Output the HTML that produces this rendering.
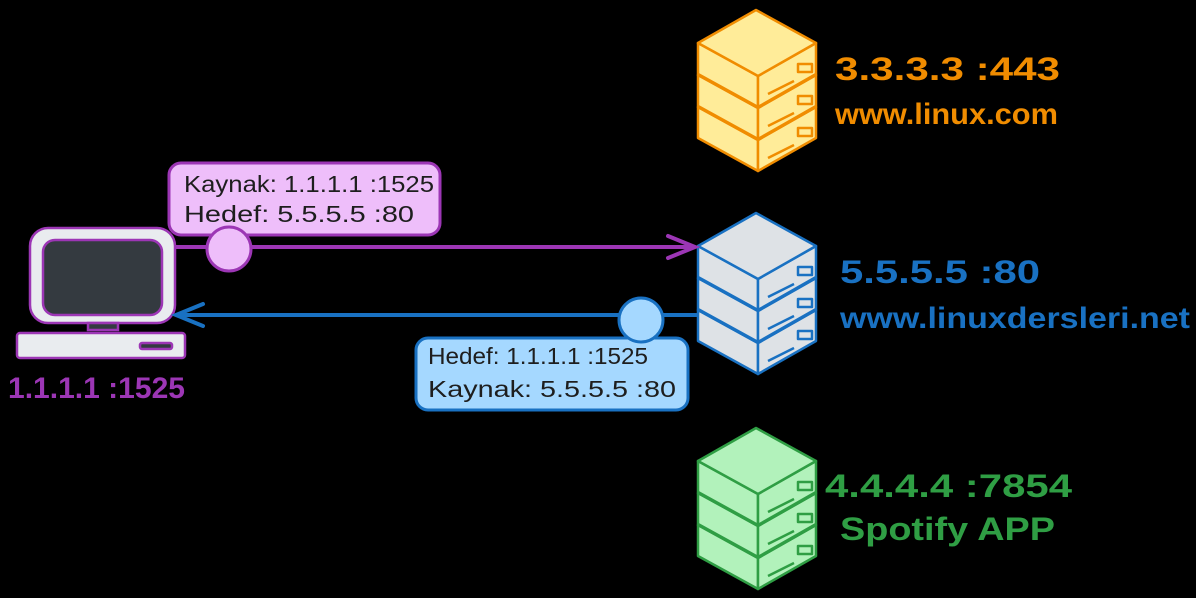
<!DOCTYPE html><html><head><style>body{margin:0;background:#000}svg{display:block}</style></head><body>
<svg width="1196" height="598" viewBox="0 0 1196 598" xmlns="http://www.w3.org/2000/svg" font-family="'Comic Sans MS','Liberation Sans',sans-serif">
<rect width="1196" height="598" fill="#000"/>
<defs>
<g id="box">
 <polygon points="0,37 60,70 60,101 0,68"/>
 <polygon points="60,70 118,37 118,68 60,101"/>
 <polygon points="0,37 58,4 118,37 60,70"/>
 <rect x="100" y="58" width="14" height="8" fill="none"/>
 <line x1="70" y1="88" x2="96" y2="75"/>
</g>
</defs>
<g fill="#ffec99" stroke="#f08c00" stroke-width="2.5" stroke-linejoin="round">
 <use href="#box" transform="translate(698,70)"/><use href="#box" transform="translate(698,38)"/><use href="#box" transform="translate(698,6)"/>
</g>
<g fill="#dee2e6" stroke="#1971c2" stroke-width="2.5" stroke-linejoin="round">
 <use href="#box" transform="translate(698,273)"/><use href="#box" transform="translate(698,241)"/><use href="#box" transform="translate(698,209)"/>
</g>
<g fill="#b2f2bb" stroke="#2f9e44" stroke-width="2.5" stroke-linejoin="round">
 <use href="#box" transform="translate(698,488)"/><use href="#box" transform="translate(698,456)"/><use href="#box" transform="translate(698,424)"/>
</g>
<g font-size="32" font-weight="bold" lengthAdjust="spacingAndGlyphs">
<text x="835" y="80" fill="#f08c00" textLength="225" lengthAdjust="spacingAndGlyphs">3.3.3.3 :443</text>
<text x="835" y="124" fill="#f08c00" font-size="30" textLength="223" lengthAdjust="spacingAndGlyphs">www.linux.com</text>
<text x="840" y="283" fill="#1971c2" textLength="200" lengthAdjust="spacingAndGlyphs">5.5.5.5 :80</text>
<text x="840" y="328" fill="#1971c2" font-size="30" textLength="350" lengthAdjust="spacingAndGlyphs">www.linuxdersleri.net</text>
<text x="825" y="497" fill="#2f9e44" textLength="247" lengthAdjust="spacingAndGlyphs">4.4.4.4 :7854</text>
<text x="840" y="540" fill="#2f9e44" textLength="215" lengthAdjust="spacingAndGlyphs">Spotify APP</text>
<text x="8" y="398" fill="#9c36b5" font-size="30" textLength="177" lengthAdjust="spacingAndGlyphs">1.1.1.1 :1525</text>
</g>
<g stroke="#9c36b5" stroke-width="2.5">
<rect x="30" y="228" width="145" height="95" rx="18" fill="#e9ecef"/>
<rect x="43" y="240" width="119" height="75" rx="12" fill="#343a40"/>
<rect x="88" y="323" width="30" height="7" fill="#343a40"/>
<rect x="17" y="333" width="168" height="25" rx="3" fill="#e9ecef"/>
<rect x="140" y="343" width="32" height="6" rx="2" fill="#343a40"/>
</g>
<line x1="175" y1="247" x2="690" y2="247" stroke="#9c36b5" stroke-width="4"/>
<path d="M668,236 L695,247 L668,258" fill="none" stroke="#9c36b5" stroke-width="4" stroke-linecap="round"/>
<rect x="169" y="163" width="271" height="72" rx="12" fill="#eebefa" stroke="#9c36b5" stroke-width="3"/>
<circle cx="229" cy="249" r="22" fill="#eebefa" stroke="#9c36b5" stroke-width="3"/>
<text x="184" y="192" font-size="23" fill="#1e1e1e" textLength="250" lengthAdjust="spacingAndGlyphs">Kaynak: 1.1.1.1 :1525</text>
<text x="184" y="222" font-size="23" fill="#1e1e1e" textLength="230" lengthAdjust="spacingAndGlyphs">Hedef: 5.5.5.5 :80</text>
<line x1="180" y1="315" x2="698" y2="315" stroke="#1971c2" stroke-width="4"/>
<path d="M203,304 L176,315 L203,326" fill="none" stroke="#1971c2" stroke-width="4" stroke-linecap="round"/>
<rect x="416" y="338" width="272" height="72" rx="12" fill="#a5d8ff" stroke="#1971c2" stroke-width="3"/>
<circle cx="641" cy="320" r="22" fill="#a5d8ff" stroke="#1971c2" stroke-width="3"/>
<text x="428" y="364" font-size="23" fill="#1e1e1e" textLength="220" lengthAdjust="spacingAndGlyphs">Hedef: 1.1.1.1 :1525</text>
<text x="428" y="397" font-size="23" fill="#1e1e1e" textLength="248" lengthAdjust="spacingAndGlyphs">Kaynak: 5.5.5.5 :80</text>
</svg>
</body></html>
